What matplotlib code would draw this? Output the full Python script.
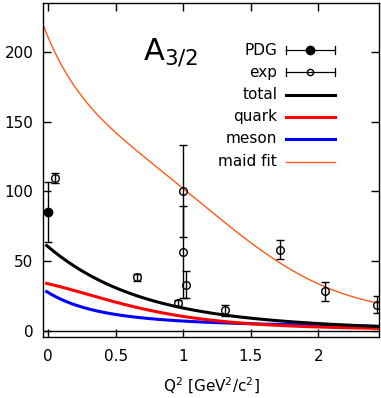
import numpy as np
import matplotlib
matplotlib.use('Agg')
import matplotlib.pyplot as plt

#%% datos

# PDG
pdg_x = [0.0]
pdg_y = [85.0]
pdg_err = [21.5]

# exp
exp_x = [0.052, 0.657, 0.965, 1.0, 1.0, 1.02, 1.31, 1.72, 2.05, 2.435]
exp_y = [109.5, 38.3, 19.8, 100.0, 56.7, 33.0, 14.6, 58.0, 28.2, 18.6]
exp_err = [3.3, 2.5, 2.0, 33.0, 33.0, 9.5, 4.0, 6.8, 6.8, 6.0]

# curvas del modelo
curve_x = [-0.01, 0.19, 0.43, 0.68, 0.98, 1.16, 1.24, 1.6, 2.03, 2.45]
total_y = [60.0, 48.0, 34.0, 24.0, 16.2, 13.4, 12.2, 8.4, 4.8, 3.1]
quark_y = [34.0, 28.9, 22.2, 16.2, 10.7, 7.9, 7.4, 4.3, 2.6, 1.7]
meson_y = [27.5, 19.8, 12.6, 9.0, 7.4, 6.0, 5.8, 4.8, 3.8, 3.1]

# maid fit
maid_x = [-0.037, 0.0, 0.089, 0.237, 0.435, 0.68, 0.99, 1.22, 1.47, 1.72, 1.965, 2.21, 2.45]
maid_y = [218.0, 210.0, 194.4, 170.0, 149.0, 127.5, 100.0, 84.6, 66.5, 49.7, 34.0, 25.8, 19.8]

xticks = [0, 0.5, 1, 1.5, 2]
xticklabels = ['0', '0.5', '1', '1.5', '2']
yticks = [0, 50, 100, 150, 200]

#%% graficar

plt.rcParams['font.family'] = 'DejaVu Sans'
fig = plt.figure(figsize=(3.81, 3.98), dpi=100)
ax = fig.add_axes([0.1129, 0.1533, 0.8819, 0.8392])

def smooth(x, y):
    xs = np.linspace(x[0], x[-1], 200)
    cs = np.polyfit(x, np.log(y), 4)
    return xs, np.exp(np.polyval(cs, xs))

orange = '#ff5a1a'
ax.plot(*smooth(maid_x, maid_y), color=orange, lw=1.0, zorder=2)
ax.plot(*smooth(curve_x, meson_y), color='#0000ff', lw=2.2, zorder=3)
ax.plot(*smooth(curve_x, quark_y), color='#ff0000', lw=2.2, zorder=3)
ax.plot(*smooth(curve_x, total_y), color='black', lw=2.2, zorder=4)

ax.axhline(0, color='black', lw=1.0, zorder=1)

ax.errorbar(exp_x, exp_y, yerr=exp_err, fmt='o', mfc='none', mec='black', ms=5.5,
            mew=1.0, ecolor='black', elinewidth=1.0, capsize=2.8, capthick=1.0, zorder=5)
ax.errorbar(pdg_x, pdg_y, yerr=pdg_err, fmt='o', mfc='black', mec='black', ms=6,
            ecolor='black', elinewidth=1.0, capsize=2.8, capthick=1.0, zorder=5)

ax.set_xlim(-0.037, 2.45)
ax.set_ylim(-4.5, 235)
ax.set_xticks(xticks)
ax.set_xticklabels(xticklabels)
ax.set_yticks(yticks)
ax.tick_params(direction='in', length=6, width=1, top=True, right=True, labelsize=11)
ax.tick_params(axis='x', pad=9)
ax.tick_params(axis='y', pad=7)
for s in ax.spines.values():
    s.set_linewidth(1.0)

ax.set_xlabel(r'Q$^2$ [GeV$^2$/c$^2$]', fontsize=11, labelpad=8)

ax.text(0.298, 0.832, r'$\mathregular{A_{3/2}}$', transform=ax.transAxes,
        fontsize=22, va='baseline', ha='left')

# leyenda a mano
tr = ax.transAxes
rows = [0.859, 0.793, 0.725, 0.659, 0.593, 0.524]
names = ['PDG', 'exp', 'total', 'quark', 'meson', 'maid fit']
x0, x1, xm = 0.723, 0.869, 0.796
for yy, nm in zip(rows, names):
    ax.text(0.697, yy, nm, transform=tr, ha='right', va='center', fontsize=11)
for yy, fill in [(rows[0], 'black'), (rows[1], 'none')]:
    ax.plot([x0, x1], [yy, yy], color='black', lw=0.9, transform=tr)
    ax.plot([x0, x0], [yy - 0.012, yy + 0.012], color='black', lw=0.9, transform=tr)
    ax.plot([x1, x1], [yy - 0.012, yy + 0.012], color='black', lw=0.9, transform=tr)
    ax.plot([xm], [yy], 'o', mfc=fill, mec='black', ms=6 if fill == 'black' else 4.5,
            mew=1.0, transform=tr)
for yy, c, lw in [(rows[2], 'black', 2.2), (rows[3], '#ff0000', 2.2),
                  (rows[4], '#0000ff', 2.2), (rows[5], orange, 1.0)]:
    ax.plot([x0, x1], [yy, yy], color=c, lw=lw, transform=tr)

fig.savefig('out.png', dpi=100)
